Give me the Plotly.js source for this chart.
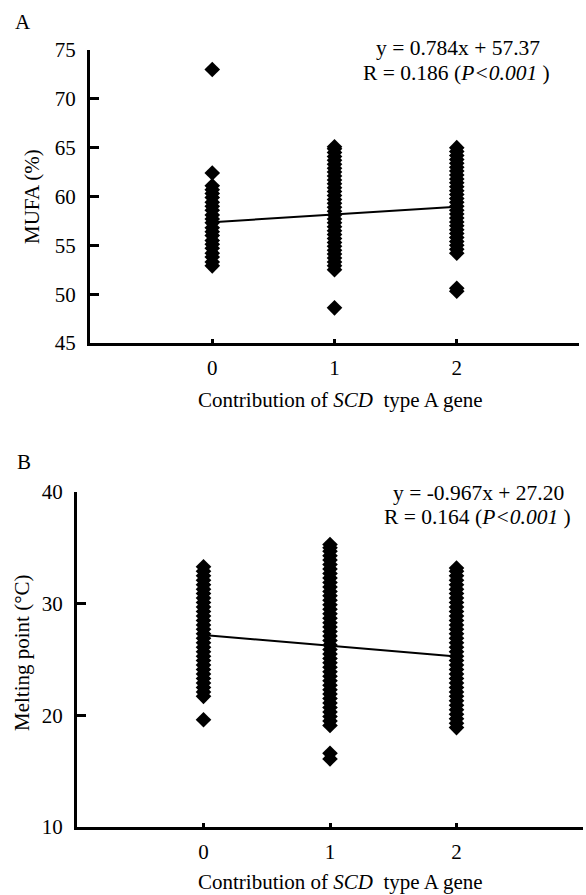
<!DOCTYPE html>
<html>
<head>
<meta charset="utf-8">
<script src="https://cdn.plot.ly/plotly-3.0.1.min.js"></script>
<style>html,body{margin:0;padding:0;background:#fff;}#chart{width:586px;height:895px;}</style>
</head>
<body>
<div id="chart"></div>
<script>
// Categories (contribution of SCD type A gene)
const groups = [0, 1, 2];
const xTickVals = [-1, 0, 1, 2, 3];
const xTickText = ['', '0', '1', '2', ''];

// Panel A: MUFA (%) values
const mufaG0 = [52.9, 53.3, 53.8, 54.2, 54.7, 55.1, 55.5, 56.0, 56.4, 56.8, 57.3, 57.7, 58.1, 58.6, 59.0, 59.4, 59.9, 60.3, 60.7, 61.1, 62.4, 73.0];
const mufaG1 = [48.6, 52.5, 52.9, 53.3, 53.7, 54.1, 54.5, 54.9, 55.3, 55.7, 56.1, 56.5, 56.9, 57.3, 57.7, 58.1, 58.5, 58.9, 59.3, 59.7, 60.1, 60.5, 60.9, 61.3, 61.7, 62.1, 62.5, 62.9, 63.3, 63.7, 64.1, 64.5, 64.9, 65.1];
const mufaG2 = [50.3, 50.6, 54.2, 54.6, 55.0, 55.4, 55.8, 56.2, 56.6, 57.0, 57.4, 57.8, 58.2, 58.6, 59.0, 59.4, 59.8, 60.2, 60.6, 61.0, 61.4, 61.8, 62.2, 62.6, 63.0, 63.4, 63.8, 64.2, 64.6, 65.0];
const mufaFit = {slope: 0.784, intercept: 57.37};

// Panel B: Melting point (°C) values
const meltG0 = [19.6, 21.7, 22.1, 22.5, 22.9, 23.3, 23.7, 24.1, 24.5, 24.9, 25.3, 25.7, 26.1, 26.5, 26.9, 27.3, 27.7, 28.1, 28.5, 28.9, 29.3, 29.7, 30.1, 30.5, 30.9, 31.3, 31.7, 32.1, 32.5, 32.9, 33.3];
const meltG1 = [16.1, 16.6, 19.1, 19.5, 19.9, 20.3, 20.7, 21.1, 21.5, 21.9, 22.3, 22.7, 23.1, 23.5, 23.9, 24.3, 24.7, 25.1, 25.5, 25.9, 26.3, 26.7, 27.1, 27.5, 27.9, 28.3, 28.7, 29.1, 29.5, 29.9, 30.3, 30.7, 31.1, 31.5, 31.9, 32.3, 32.7, 33.1, 33.5, 33.9, 34.3, 34.7, 35.0, 35.3];
const meltG2 = [18.9, 19.3, 19.7, 20.1, 20.5, 20.9, 21.3, 21.7, 22.1, 22.5, 22.9, 23.3, 23.7, 24.1, 24.5, 24.9, 25.3, 25.7, 26.1, 26.5, 26.9, 27.3, 27.7, 28.1, 28.5, 28.9, 29.3, 29.7, 30.1, 30.5, 30.9, 31.3, 31.7, 32.1, 32.5, 32.9, 33.2];
const meltFit = {slope: -0.967, intercept: 27.20};

function flatten(groupsVals) {
  const xs = [], ys = [];
  groupsVals.forEach((vals, i) => vals.forEach(v => { xs.push(groups[i]); ys.push(v); }));
  return {xs, ys};
}
const A = flatten([mufaG0, mufaG1, mufaG2]);
const B = flatten([meltG0, meltG1, meltG2]);
const fitX = [groups[0], groups[groups.length - 1]];

const W = 586, H = 895;
const px = v => v / W;
const py = v => (H - v) / H;
const FONT = '"Liberation Serif", "Times New Roman", serif';

const marker = {symbol: 'diamond', size: 12, color: '#000', line: {width: 0}};
const traces = [
  {x: A.xs, y: A.ys, type: 'scatter', mode: 'markers', marker, xaxis: 'x', yaxis: 'y', hoverinfo: 'skip'},
  {x: fitX, y: fitX.map(x => mufaFit.slope * x + mufaFit.intercept), type: 'scatter', mode: 'lines', line: {color: '#000', width: 2}, xaxis: 'x', yaxis: 'y'},
  {x: B.xs, y: B.ys, type: 'scatter', mode: 'markers', marker, xaxis: 'x2', yaxis: 'y2', hoverinfo: 'skip'},
  {x: fitX, y: fitX.map(x => meltFit.slope * x + meltFit.intercept), type: 'scatter', mode: 'lines', line: {color: '#000', width: 2}, xaxis: 'x2', yaxis: 'y2'}
];

const xCommon = {
  range: [-1, 3], tickvals: xTickVals, ticktext: xTickText, showgrid: false, zeroline: false,
  showline: true, linecolor: '#000', linewidth: 3, ticks: 'inside', ticklen: 4, tickwidth: 3, tickcolor: '#000',
  tickfont: {family: FONT, size: 21, color: '#000'}, ticklabelstandoff: 4, fixedrange: true
};
const yCommon = {
  showgrid: false, zeroline: false, showline: true, linecolor: '#000', linewidth: 3,
  ticks: 'inside', ticklen: 9, tickwidth: 3, tickcolor: '#000',
  tickfont: {family: FONT, size: 21, color: '#000'}, ticklabelstandoff: 7, fixedrange: true
};

const ann = (text, x, y, size, extra) => Object.assign({text, x: px(x), y: py(y), xref: 'paper', yref: 'paper', showarrow: false, xanchor: 'center', yanchor: 'middle', font: {family: FONT, size, color: '#000'}}, extra || {});

const layout = {
  width: W, height: H, margin: {l: 0, r: 0, t: 0, b: 0}, showlegend: false,
  paper_bgcolor: '#fff', plot_bgcolor: '#fff',
  xaxis: Object.assign({}, xCommon, {domain: [px(90), px(579)], anchor: 'y'}),
  yaxis: Object.assign({}, yCommon, {domain: [py(343), py(50)], range: [45, 75], tickvals: [45, 50, 55, 60, 65, 70, 75], anchor: 'x'}),
  xaxis2: Object.assign({}, xCommon, {domain: [px(77), px(583)], anchor: 'y2'}),
  yaxis2: Object.assign({}, yCommon, {domain: [py(827), py(492)], range: [10, 40], tickvals: [10, 20, 30, 40], anchor: 'x2'}),
  annotations: [
    ann('A', 23, 22, 21),
    ann('B', 24, 462, 21),
    ann('MUFA (%)', 32, 197, 21, {textangle: -90}),
    ann('Melting point (°C)', 22, 653, 21, {textangle: -90}),
    ann('Contribution of <i>SCD</i>  type A gene', 340, 400, 21),
    ann('Contribution of <i>SCD</i>  type A gene', 340, 882, 21),
    ann('y = 0.784x + 57.37', 458, 48, 21.5),
    ann('R = 0.186 (<i>P&lt;0.001</i> )', 456, 73, 21.5),
    ann('y = -0.967x + 27.20', 478, 493, 21.5),
    ann('R = 0.164 (<i>P&lt;0.001</i> )', 477, 517, 21.5)
  ]
};

Plotly.newPlot('chart', traces, layout, {staticPlot: true, displayModeBar: false});
</script>
</body>
</html>
